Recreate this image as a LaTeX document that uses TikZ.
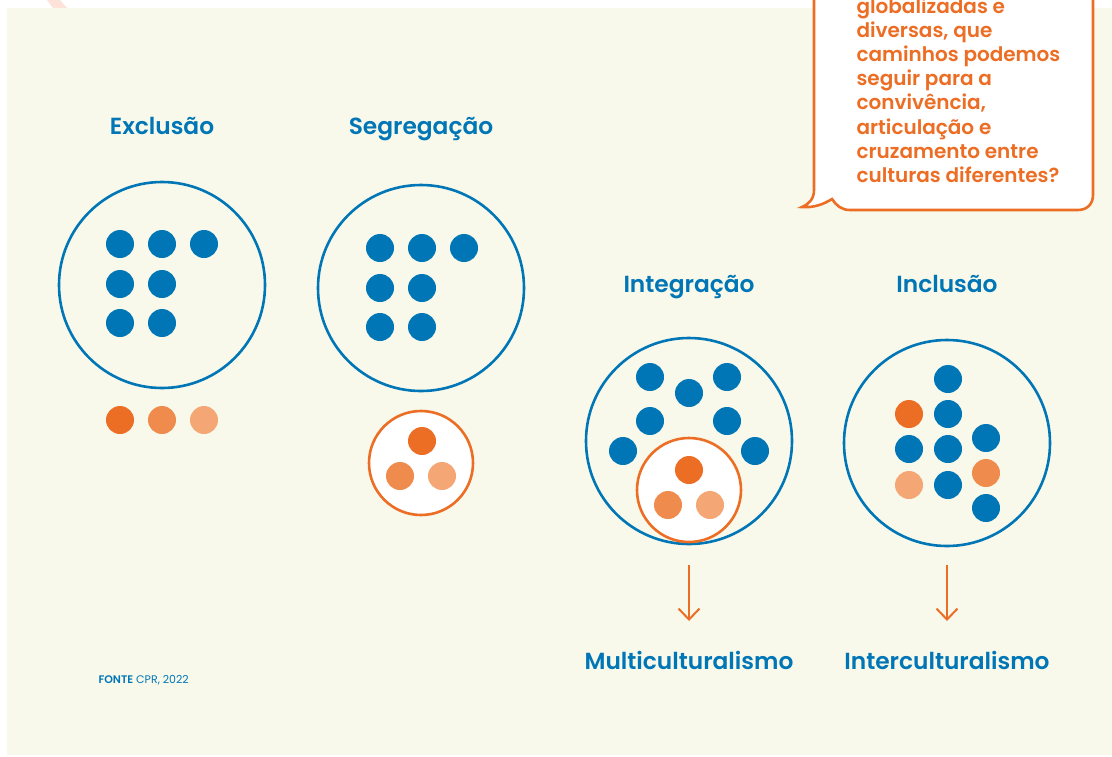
\documentclass[tikz,border=0pt]{standalone}
\usepackage{fontspec}
\setmainfont{Poppins}[BoldFont={Poppins SemiBold}]
\usepackage{xcolor}
\usetikzlibrary{arrows.meta}

\definecolor{cprblue}{RGB}{0,118,182}
\definecolor{orA}{RGB}{236,110,37}
\definecolor{orB}{RGB}{239,140,77}
\definecolor{orC}{RGB}{244,167,117}
\definecolor{cream}{RGB}{248,249,234}
\definecolor{pinkish}{RGB}{253,226,218}

\begin{document}
\begin{tikzpicture}[x=1pt, y=-1pt,
		ring/.style={circle, draw=cprblue, line width=2.6pt, inner sep=0pt, minimum size=206pt},
		subring/.style={circle, draw=orA, fill=white, line width=2.6pt, inner sep=0pt, minimum size=104pt},
		bdot/.style={circle, fill=cprblue, inner sep=0pt, minimum size=28pt},
		odot/.style={circle, fill=#1, inner sep=0pt, minimum size=28pt},
		title/.style={anchor=base, text=cprblue, font=\fontsize{23.3}{27}\selectfont\bfseries},
		qtext/.style={anchor=base west, text=orA, font=\fontsize{20}{24}\selectfont\bfseries},
		arr/.style={draw=orA, line width=2pt, -{Straight Barb[length=11pt, width=21pt, line width=2pt]}}]
		\clip (0,0) rectangle (1112,756);
		\useasboundingbox (0,0) rectangle (1112,756);
		\fill[white] (0,0) rectangle (1112,756);
		\fill[pinkish] (47,0) -- (60,0) -- (67,8) -- (53,8) -- cycle;
		\fill[cream] (7,8) rectangle (1112,755);

		% question bubble
		\draw[draw=orA, fill=white, line width=2.6pt] (814,-30) -- (814,190)
			.. controls (814,199) and (809,204) .. (802,207)
			.. controls (814,208) and (824,204) .. (832,199)
			.. controls (836,205) and (841,210) .. (850,210) -- (1078,210)
			.. controls (1087,210) and (1093,204) .. (1093,195) -- (1093,-30) -- cycle;
		\foreach \txt [count=\i] in {globalizadas e, {diversas, que}, caminhos podemos, seguir para a, {convivência,}, articulação e, cruzamento entre, culturas diferentes?}
			\node[qtext] (q\i) at (853, {13.5+24.1*(\i-1)}) {\txt};

		% exclusao
		\node[title] (tex) at (162,134) {Exclusão};
		\node[ring] (ex) at (162,285) {};
		\foreach \x/\y [count=\i] in {120/244, 162/244, 204/244, 120/284, 162/284, 120/323, 162/323}
			\node[bdot] (ex\i) at (\x,\y) {};
		\node[odot=orA] (exo1) at (120,420) {};
		\node[odot=orB] (exo2) at (162,420) {};
		\node[odot=orC] (exo3) at (204,420) {};

		% segregacao
		\node[title] (tseg) at (421,134) {Segregação};
		\node[ring] (seg) at (421,288) {};
		\foreach \x/\y [count=\i] in {380/248, 422/248, 464/248, 380/288, 422/288, 380/327, 422/327}
			\node[bdot] (seg\i) at (\x,\y) {};
		\node[subring] (segsub) at (421,463) {};
		\node[odot=orA] (sego1) at (422,441) {};
		\node[odot=orB] (sego2) at (400,476) {};
		\node[odot=orC] (sego3) at (442,476) {};

		% integracao
		\node[title] (tint) at (689,292) {Integração};
		\node[ring] (int) at (689,441) {};
		\foreach \x/\y [count=\i] in {650/377, 689/393, 727/377, 650/421, 727/421, 623/451, 755/451}
			\node[bdot] (int\i) at (\x,\y) {};
		\node[subring] (intsub) at (689,490) {};
		\node[odot=orA] (into1) at (689,470) {};
		\node[odot=orB] (into2) at (668,505) {};
		\node[odot=orC] (into3) at (710,505) {};

		% inclusao
		\node[title] (tinc) at (947,292) {Inclusão};
		\node[ring] (inc) at (947,443) {};
		\foreach \x/\y [count=\i] in {948/379, 948/414, 909/449, 948/449, 986/438, 948/485, 986/508}
			\node[bdot] (inc\i) at (\x,\y) {};
		\node[odot=orA] (inco1) at (909,414) {};
		\node[odot=orB] (inco2) at (986,473) {};
		\node[odot=orC] (inco3) at (909,485) {};

		% arrows and results
		\coordinate (a1) at (689,565);
		\coordinate (b1) at (689,621);
		\coordinate (a2) at (947,565);
		\coordinate (b2) at (947,621);
		\draw[arr] (a1) -- (b1);
		\draw[arr] (a2) -- (b2);
		\node[title] (multi) at (689,669) {Multiculturalismo};
		\node[title] (inter) at (947,669) {Interculturalismo};

		\node[anchor=base west, text=cprblue, font=\fontsize{11}{13}\selectfont] (fonte) at (95,683) {\textbf{FONTE} CPR, 2022};
	\end{tikzpicture}
\end{document}
